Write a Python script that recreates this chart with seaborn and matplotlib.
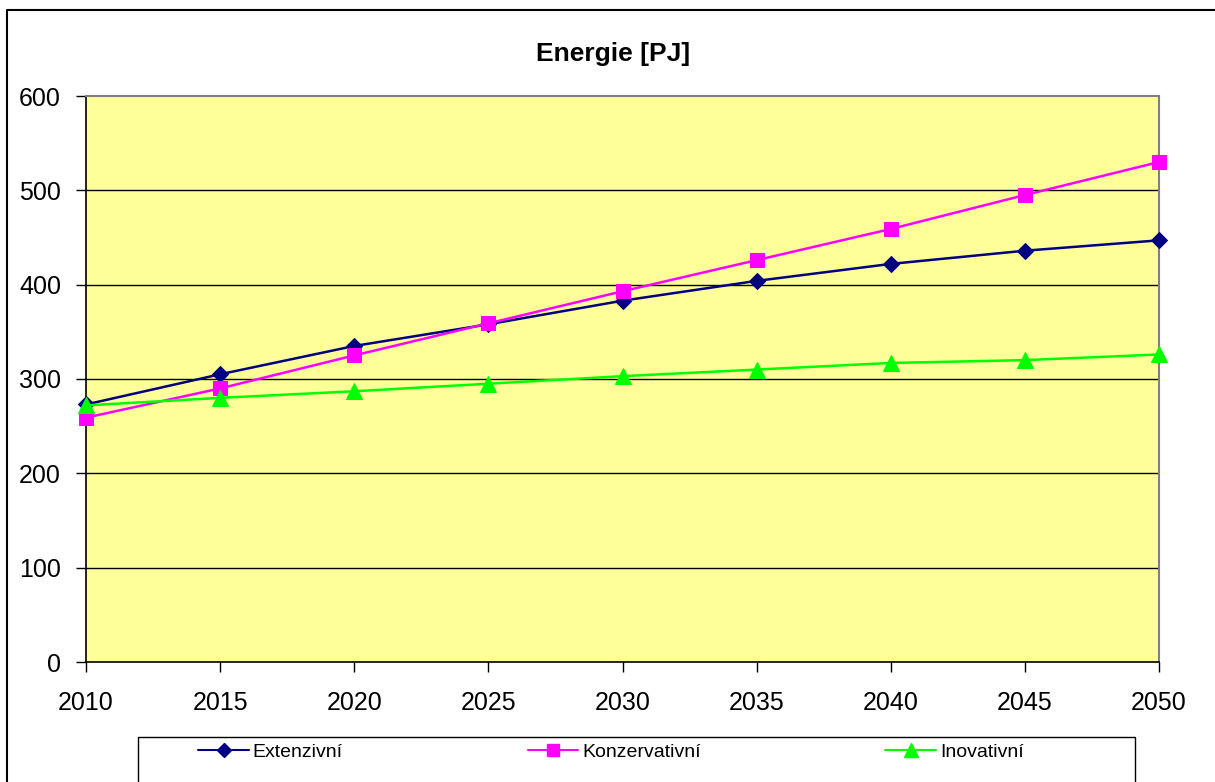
import matplotlib
matplotlib.use("Agg")
import matplotlib.pyplot as plt
from matplotlib.patches import Rectangle
from matplotlib.lines import Line2D
import seaborn as sns
import pandas as pd

# data
roky = [2010, 2015, 2020, 2025, 2030, 2035, 2040, 2045, 2050]
extenzivni = [273, 305, 335, 358, 383, 404, 422, 436, 447]
konzervativni = [259, 290, 325, 359, 393, 426, 459, 495, 530]
inovativni = [272, 280, 287, 295, 303, 310, 317, 320, 326]
nazvy = ["Extenzivní", "Konzervativní", "Inovativní"]
y_ticks = [0, 100, 200, 300, 400, 500, 600]

sns.set_style("white")
plt.rcParams['font.family'] = ['Liberation Sans', 'DejaVu Sans']
plt.rcParams['text.color'] = 'black'
plt.rcParams['xtick.color'] = 'black'
plt.rcParams['ytick.color'] = 'black'

df = pd.DataFrame({"rok": roky * 3,
                   "hodnota": extenzivni + konzervativni + inovativni,
                   "scenar": [n for n in nazvy for _ in roky]})

fig = plt.figure(figsize=(12.15, 7.82), dpi=100)
ax = fig.add_axes([86 / 1215, 1 - 662 / 782, (1159 - 86) / 1215, (662 - 96) / 782])
ax.set_facecolor("#FFFF99")

barvy = {"Extenzivní": "#000080", "Konzervativní": "#FF00FF", "Inovativní": "#00FF00"}
znacky = {"Extenzivní": "D", "Konzervativní": "s", "Inovativní": "^"}
velikosti = {"Extenzivní": 8, "Konzervativní": 10, "Inovativní": 11}

for n in nazvy:
    sns.lineplot(data=df[df.scenar == n], x="rok", y="hodnota", ax=ax,
                 color=barvy[n], marker=znacky[n], markersize=velikosti[n],
                 markeredgecolor=barvy[n], linewidth=1.8, legend=False, zorder=3,
                 clip_on=False)

ax.set_xlim(2010, 2050)
ax.set_ylim(0, 600)
ax.set_xticks(roky)
ax.set_yticks(y_ticks)
ax.set_xlabel("")
ax.set_ylabel("")
for y in y_ticks[1:-1]:
    ax.axhline(y, color="black", linewidth=1, zorder=1)

for s in ["top", "right"]:
    ax.spines[s].set_color("#808080")
    ax.spines[s].set_linewidth(1.5)
for s in ["left", "bottom"]:
    ax.spines[s].set_color("black")
    ax.spines[s].set_linewidth(1.2)

ax.tick_params(axis="both", direction="out", length=7, width=1, color="black",
               labelsize=18, labelcolor="black")
ax.tick_params(axis="x", pad=14, bottom=True)
ax.tick_params(axis="y", pad=11, left=True)

fig.text(613 / 1215, 1 - 52 / 782, "Energie [PJ]", ha="center", va="center_baseline",
         fontsize=19, fontweight="bold", color="black")

# outer chart frame (cut off at right/bottom)
fig.add_artist(Line2D([7 / 1215, 7 / 1215, 1.0], [0.0, 1 - 10 / 782, 1 - 10 / 782],
                      transform=fig.transFigure, color="black", linewidth=1.5))

# legend box
fig.add_artist(Rectangle((138 / 1215, -0.05), (1135 - 138) / 1215, 0.05 + 1 - 737 / 782,
                         transform=fig.transFigure, facecolor="white",
                         edgecolor="black", linewidth=1))
handles = [Line2D([], [], color=barvy[n], marker=znacky[n], markersize=velikosti[n] - 1,
                  linewidth=1.5) for n in nazvy]
fig.legend(handles, nazvy, loc="center", bbox_to_anchor=(611 / 1215, 1 - 752 / 782),
           ncol=3, frameon=False, fontsize=14, columnspacing=9.5, handlelength=2.6,
           handletextpad=0.2, labelcolor="black")

fig.savefig("out.png", dpi=100)
